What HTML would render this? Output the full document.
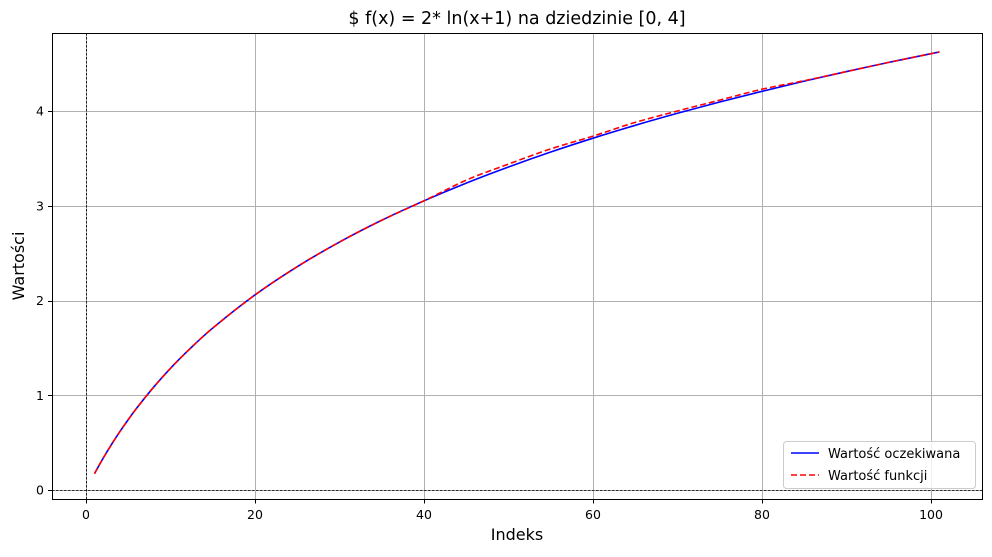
<!DOCTYPE html>
<html><head><meta charset="utf-8"><style>
body{margin:0;background:#fff;font-family:"Liberation Sans","DejaVu Sans",sans-serif}
</style></head><body>
<svg id="chart" width="992" height="552" font-family="'DejaVu Sans','Liberation Sans',sans-serif">
<text x="517" y="24" font-size="17.5" text-anchor="middle">$ f(x) = 2* ln(x+1) na dziedzinie [0, 4]</text>
<g id="grid"></g>
<g id="plot"></g>
<rect x="52.5" y="33.5" width="930" height="466" fill="none" stroke="#000" stroke-width="1"/>
<text x="517" y="540" font-size="16" text-anchor="middle">Indeks</text>
<text transform="translate(24,266) rotate(-90)" font-size="16" text-anchor="middle">Wartości</text>
<g>
<rect x="783.5" y="441.5" width="192" height="47" rx="3" fill="#fff" fill-opacity="0.8" stroke="#ccc"/>
<line x1="791" y1="453" x2="819" y2="453" stroke="blue" stroke-width="1.6"/>
<text x="828" y="458" font-size="13">Wartość oczekiwana</text>
<line x1="791" y1="475" x2="819" y2="475" stroke="red" stroke-width="1.6" stroke-dasharray="6,3"/>
<text x="828" y="480" font-size="13">Wartość funkcji</text>
</g>
</svg>
<script>
const idx = [1,2,3,4,5,6,8,10,12,15,20,25,30,35,40,45,50,55,60,65,70,75,80,85,90,95,101];
const expected = [0.172,0.331,0.478,0.615,0.743,0.864,1.085,1.284,1.465,1.709,2.059,2.357,2.617,2.847,3.052,3.239,3.409,3.567,3.713,3.849,3.976,4.095,4.208,4.315,4.416,4.513,4.623];
const computed = [0.172,0.331,0.478,0.615,0.743,0.864,1.085,1.284,1.465,1.709,2.059,2.357,2.617,2.847,3.052,3.27,3.44,3.60,3.735,3.88,4.00,4.115,4.23,4.32,4.416,4.513,4.623];
const xTicks = [0,20,40,60,80,100];
const yTicks = [0,1,2,3,4];
const NS='http://www.w3.org/2000/svg';
const X = v => 86 + v*8.45;
const Y = v => 490 - v*94.75;
const grid=document.getElementById('grid'), plot=document.getElementById('plot');
function mk(tag,attrs,parent){const e=document.createElementNS(NS,tag);for(const k in attrs)e.setAttribute(k,attrs[k]);parent.appendChild(e);return e;}
xTicks.forEach(t=>{
  const px=Math.round(X(t))+0.5;
  const g=mk('line',{x1:px,x2:px,y1:33,y2:499,stroke:'#b0b0b0','stroke-width':1},grid);
  
  
  mk('line',{x1:px,x2:px,y1:499,y2:503.5,stroke:'#000'},grid);
  const tx=mk('text',{x:X(t),y:519,'font-size':12.5,'text-anchor':'middle'},grid);tx.textContent=t;
  
  
});
yTicks.forEach(t=>{
  const py=Math.round(Y(t))+0.5;
  const g=mk('line',{x1:52,x2:982,y1:py,y2:py,stroke:'#b0b0b0','stroke-width':1},grid);
  
  
  mk('line',{x1:48,x2:52,y1:py,y2:py,stroke:'#000'},grid);
  const tx=mk('text',{x:44,y:Y(t)+4.5,'font-size':12.5,'text-anchor':'end'},grid);tx.textContent=t;
  
  
});
const zx=mk('line',{x1:86.5,x2:86.5,y1:33,y2:499,stroke:'#000','stroke-width':0.8,'stroke-dasharray':'2.5,1.5'},grid);


const zy=mk('line',{x1:52,x2:982,y1:490.5,y2:490.5,stroke:'#000','stroke-width':0.8,'stroke-dasharray':'2.5,1.5'},grid);


function path(vals){
  const p=idx.map((i,k)=>[X(i),Y(vals[k])]);
  let d='M'+p[0][0]+','+p[0][1];
  for(let k=0;k<p.length-1;k++){
    const p0=p[k-1]||p[k],p1=p[k],p2=p[k+1],p3=p[k+2]||p2;
    d+=' C'+(p1[0]+(p2[0]-p0[0])/6)+','+(p1[1]+(p2[1]-p0[1])/6)+' '+(p2[0]-(p3[0]-p1[0])/6)+','+(p2[1]-(p3[1]-p1[1])/6)+' '+p2[0]+','+p2[1];
  }
  return d;
}
const l1=mk('path',{d:path(expected),fill:'none',stroke:'blue','stroke-width':1.6},plot);


const l2=mk('path',{d:path(computed),fill:'none',stroke:'red','stroke-width':1.6,'stroke-dasharray':'6,3'},plot);


</script>
</body></html>
